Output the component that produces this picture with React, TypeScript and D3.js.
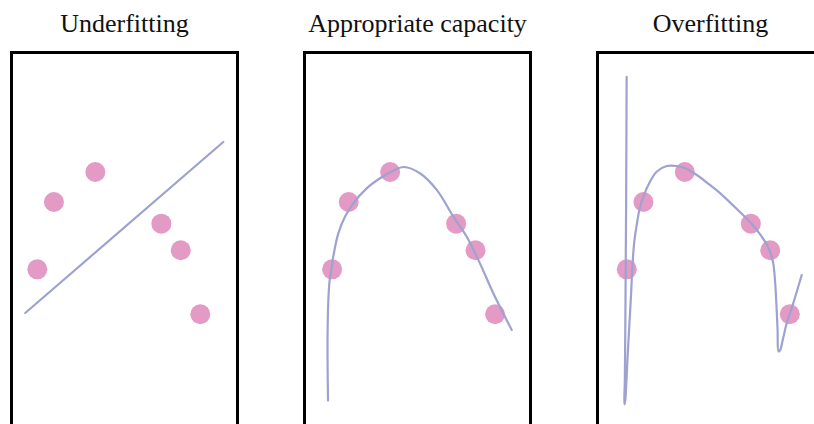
import React from "react";
import * as d3 from "d3";

// Panel titles
const TITLES = ["Underfitting", "Appropriate capacity", "Overfitting"];

// Training points (same in every panel), normalized units
const POINT_X = [0, 0.102, 0.356, 0.761, 0.88, 1.0];
const POINT_Y = [0.316, 0.789, 1.0, 0.637, 0.45, 0];

// Linear fit (underfitting)
const LINEAR_X = [-0.074, 1.141];
const LINEAR_Y = [0.009, 1.211];

// Appropriate-capacity fit
const QUAD_X = [-0.025, -0.028, -0.023, -0.015, -0.004, 0.007, 0.038, 0.079, 0.13, 0.212, 0.294, 0.375, 0.441, 0.539, 0.642, 0.744, 0.826, 0.907, 0.989, 1.102];
const QUAD_Y = [-0.606, -0.181, 0.1, 0.241, 0.318, 0.405, 0.569, 0.686, 0.78, 0.885, 0.956, 1.009, 1.035, 0.991, 0.874, 0.686, 0.545, 0.358, 0.148, -0.11];

// Overfitting high-degree fit
const HIGH_X = [-0.001, -0.004, -0.008, -0.012, -0.015, -0.014, -0.009, -0.005, 0.004, 0.015, 0.026, 0.036, 0.047, 0.061, 0.077, 0.101, 0.142, 0.183, 0.245, 0.306, 0.357, 0.429, 0.51, 0.572, 0.694, 0.756, 0.817, 0.872, 0.897, 0.909, 0.918, 0.925, 0.931, 0.94, 0.958, 0.981, 1.021, 1.073];
const HIGH_Y = [1.668, 0.803, 0.1, -0.462, -0.588, -0.634, -0.602, -0.532, -0.321, -0.089, 0.136, 0.368, 0.522, 0.628, 0.733, 0.826, 0.932, 1.002, 1.042, 1.042, 1.026, 0.979, 0.909, 0.852, 0.719, 0.649, 0.564, 0.459, 0.368, 0.241, 0.065, -0.11, -0.261, -0.254, -0.174, -0.063, 0.077, 0.276];

const W = 814;
const H = 424;
const FRAME_LEFT = [11.5, 304.5, 597.5];
const FRAME_W = 226;
const FRAME_TOP = 52.5;
const PLOT_OFFSET = [0, 294.8, 589.5];

const POINT_COLOR = "#e39ac4";
const LINE_COLOR = "#9ea2d0";

const FITS: { xs: number[]; ys: number[]; smooth: boolean }[] = [
  { xs: LINEAR_X, ys: LINEAR_Y, smooth: false },
  { xs: QUAD_X, ys: QUAD_Y, smooth: true },
  { xs: HIGH_X, ys: HIGH_Y, smooth: true },
];

export default function App() {
  const yScale = d3.scaleLinear().domain([0, 1]).range([314.3, 172]);
  const points = POINT_X.map((x, i) => ({ x, y: POINT_Y[i] }));

  return (
    <svg
      width={W}
      height={H}
      style={{ position: "absolute", left: 0, top: 0, background: "#fff" }}
    >
      {TITLES.map((title, p) => {
        const off = PLOT_OFFSET[p];
        const xScale = d3.scaleLinear().domain([0, 1]).range([37.3 + off, 200.3 + off]);
        const fit = FITS[p];
        const data = fit.xs.map((x, i) => [x, fit.ys[i]] as [number, number]);
        const line = d3
          .line<[number, number]>()
          .x((d) => xScale(d[0]))
          .y((d) => yScale(d[1]))
          .curve(fit.smooth ? d3.curveCatmullRom.alpha(0.5) : d3.curveLinear);
        return (
          <g key={title}>
            <text
              x={FRAME_LEFT[p] + FRAME_W / 2}
              y={32}
              textAnchor="middle"
              fontFamily="'Liberation Serif', serif"
              fontSize={26}
              fill="#111"
            >
              {title}
            </text>
            <rect
              x={FRAME_LEFT[p]}
              y={FRAME_TOP}
              width={FRAME_W}
              height={420}
              fill="none"
              stroke="#000"
              strokeWidth={3}
            />
            {points.map((d, i) => (
              <circle key={i} cx={xScale(d.x)} cy={yScale(d.y)} r={10} fill={POINT_COLOR} />
            ))}
            <path
              d={line(data) || ""}
              fill="none"
              stroke={LINE_COLOR}
              strokeWidth={2.2}
              strokeLinecap="round"
              strokeLinejoin="round"
            />
          </g>
        );
      })}
    </svg>
  );
}
